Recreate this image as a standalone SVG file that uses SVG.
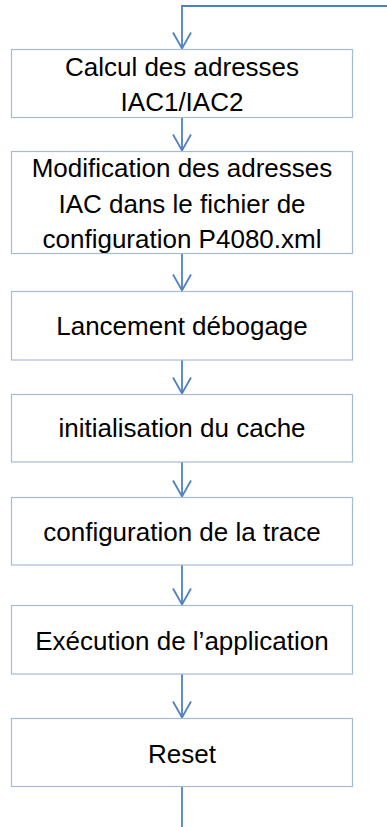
<svg xmlns="http://www.w3.org/2000/svg" width="387" height="827" viewBox="0 0 387 827">
<style>
.box{fill:#ffffff;stroke:#a7bad5;stroke-width:1.2}
.lbl{font-family:"Liberation Sans",Arial,sans-serif;font-size:26px;fill:#000000;text-anchor:middle}
.conn{fill:none;stroke:#4f81bd;stroke-width:1.8}
</style>
<defs>
<marker id="arr" markerUnits="userSpaceOnUse" orient="auto" refX="0" refY="0" markerWidth="20" markerHeight="20" viewBox="-18 -10 20 20" overflow="visible">
<path d="M-16,-9 L0,0 L-16,9" fill="none" stroke="#4f81bd" stroke-width="1.8"/>
</marker>
</defs>
<rect width="387" height="827" fill="#ffffff"/>
<g id="connectors">
<path class="conn" d="M387,6 H182 V48.5" marker-end="url(#arr)"/>
<path class="conn" d="M182,117.5 V150.5" marker-end="url(#arr)"/>
<path class="conn" d="M182,253.5 V290.5" marker-end="url(#arr)"/>
<path class="conn" d="M182,360 V393.5" marker-end="url(#arr)"/>
<path class="conn" d="M182,462 V496.5" marker-end="url(#arr)"/>
<path class="conn" d="M182,565 V604.5" marker-end="url(#arr)"/>
<path class="conn" d="M182,674 V717.5" marker-end="url(#arr)"/>
<path class="conn" d="M182,786.5 V827"/>
</g>
<g id="n1">
<rect class="box" x="11.5" y="49.5" width="341" height="68"/>
<text class="lbl" x="182" y="75.7">Calcul des adresses</text>
<text class="lbl" x="182" y="110.7">IAC1/IAC2</text>
</g>
<g id="n2">
<rect class="box" x="11.5" y="151.5" width="341" height="102"/>
<text class="lbl" x="182" y="177.3">Modification des adresses</text>
<text class="lbl" x="182" y="213.3">IAC dans le fichier de</text>
<text class="lbl" x="182" y="248.3">configuration P4080.xml</text>
</g>
<g id="n3">
<rect class="box" x="11.5" y="291.5" width="341" height="68.5"/>
<text class="lbl" x="182" y="335">Lancement débogage</text>
</g>
<g id="n4">
<rect class="box" x="11.5" y="394.5" width="341" height="67.5"/>
<text class="lbl" x="182" y="436.7">initialisation du cache</text>
</g>
<g id="n5">
<rect class="box" x="11.5" y="497.5" width="341" height="67.5"/>
<text class="lbl" x="182" y="541">configuration de la trace</text>
</g>
<g id="n6">
<rect class="box" x="11.5" y="605.5" width="341" height="68.5"/>
<text class="lbl" x="182" y="650">Exécution de l’application</text>
</g>
<g id="n7">
<rect class="box" x="11.5" y="718.5" width="341" height="68"/>
<text class="lbl" x="182" y="763.3">Reset</text>
</g>
</svg>
